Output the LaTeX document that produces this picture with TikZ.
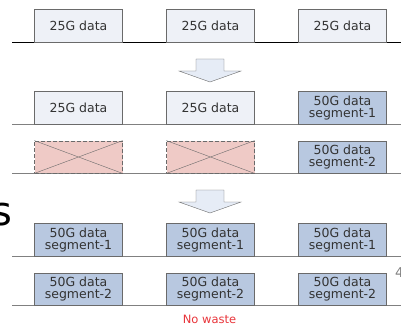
\documentclass[tikz,border=0pt]{standalone}
\usepackage{fontspec}
\setmainfont{DejaVu Sans}
\definecolor{boxgray}{HTML}{EEF1F7}
\definecolor{segblue}{HTML}{B8C8E0}
\definecolor{wastepink}{HTML}{EFCAC6}
\definecolor{edgegray}{HTML}{6A6A6A}
\definecolor{arrowfill}{HTML}{E6ECF6}
\definecolor{nowaste}{HTML}{E8343A}
\tikzset{every node/.style={align=center}, font=\fontsize{12.5}{12}\selectfont,
  old/.style={draw=edgegray, fill=boxgray, text=black!80, minimum width=88pt, minimum height=32.5pt, inner sep=0pt},
  seg/.style={old, fill=segblue},
  lost/.style={old, fill=wastepink, dash pattern=on 4pt off 2pt},
  base/.style={draw=gray, line width=0.8pt}}
\begin{document}
\begin{tikzpicture}[x=1pt, y=-1pt, node distance=132pt]
\useasboundingbox (0,0) rectangle (401,326);
% baselines
\draw [base, draw=black] (12,42.3) -- (401,42.3);
\foreach \y in {124,173.3,256,305.3}
  \draw [base] (12,\y) -- (401,\y);
% 25G lanes
\node [old] (a1) at (78.5,25.8) {25G data};
\node [old] (a2) [right of = a1] {25G data};
\node [old] (a3) [right of = a2] {25G data};
% mixed
\node [old] (b1) at (78.5,107.8) {25G data};
\node [old] (b2) [right of = b1] {25G data};
\node [seg] (b3) [right of = b2] {50G data\\segment-1};
\node [lost] (c1) at (78.5,157) {};
\node [lost] (c2) [right of = c1] {};
\node [seg] (c3) [right of = c2] {50G data\\segment-2};
\foreach \n in {c1,c2}
  \draw [edgegray] (\n.north west) -- (\n.south east) (\n.south west) -- (\n.north east);
% 50G lanes
\node [seg] (d1) at (78.5,239.7) {50G data\\segment-1};
\node [seg] (d2) [right of = d1] {50G data\\segment-1};
\node [seg] (d3) [right of = d2] {50G data\\segment-1};
\node [seg] (e1) at (78.5,289) {50G data\\segment-2};
\node [seg] (e2) [right of = e1] {50G data\\segment-2};
\node [seg] (e3) [right of = e2] {50G data\\segment-2};
% down arrows
\foreach \y in {59,190}
  \draw [draw=edgegray, fill=arrowfill] (196,\y) -- (224,\y) -- (224,\y+12) -- (241,\y+12)
    -- (210,\y+23) -- (179,\y+12) -- (196,\y+12) -- cycle;
\node [text=nowaste, font=\fontsize{11.5}{12}\selectfont, inner sep=1pt] (note) at (209.5,319.5) {No waste};
% cut-off letters at the edges
\node [font=\fontsize{40}{40}\selectfont, anchor=base east, inner sep=0pt] (side) at (13,225) {s};
\node [text=gray, font=\fontsize{13.5}{14}\selectfont, anchor=base west, inner sep=0pt] (cut) at (395,277) {4};
\end{tikzpicture}
\end{document}
